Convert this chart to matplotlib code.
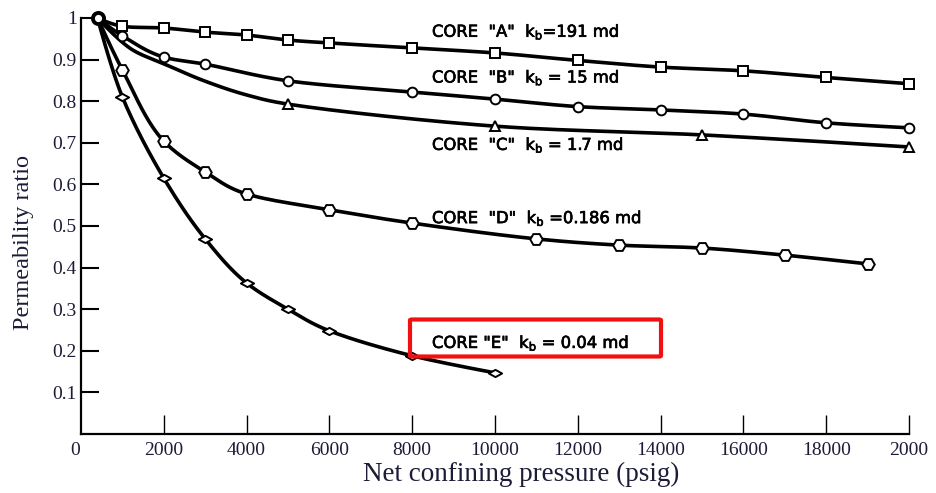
import numpy as np
import matplotlib
matplotlib.use("Agg")
import matplotlib.pyplot as plt
import matplotlib.patheffects as pe
from matplotlib.path import Path
from matplotlib.patches import FancyBboxPatch
from matplotlib.transforms import ScaledTranslation

# ---------------- data ----------------
start_x = 400
start_y = 1.0

a_x = [1000, 2000, 3000, 4000, 5000, 6000, 8000, 10000, 12000, 14000, 16000, 18000, 20000]
a_y = [0.980, 0.976, 0.966, 0.959, 0.947, 0.940, 0.928, 0.916, 0.898, 0.882, 0.873, 0.857, 0.842]

b_x = [1000, 2000, 3000, 5000, 8000, 10000, 12000, 14000, 16000, 18000, 20000]
b_y = [0.957, 0.906, 0.889, 0.849, 0.822, 0.805, 0.787, 0.779, 0.769, 0.748, 0.736]

c_x = [5000, 10000, 15000, 20000]
c_y = [0.793, 0.740, 0.719, 0.690]
# points on the drawn curve of core C without markers
c_curve_x = [1250, 2000, 3000, 4000]
c_curve_y = [0.923, 0.890, 0.848, 0.815]

d_x = [1000, 2000, 3000, 4000, 6000, 8000, 11000, 13000, 15000, 17000, 19000]
d_y = [0.875, 0.704, 0.630, 0.577, 0.539, 0.507, 0.469, 0.454, 0.447, 0.430, 0.409]

e_x = [1000, 2000, 3000, 4000, 5000, 6000, 8000, 10000]
e_y = [0.810, 0.615, 0.469, 0.363, 0.300, 0.248, 0.188, 0.147]

labels = ['CORE  "A"  k$_\\mathregular{b}$=191 md',
          'CORE  "B"  k$_\\mathregular{b}$ = 15 md',
          'CORE  "C"  k$_\\mathregular{b}$ = 1.7 md',
          'CORE  "D"  k$_\\mathregular{b}$ =0.186 md',
          'CORE "E"  k$_\\mathregular{b}$ = 0.04 md']

x_ticks = [0, 2000, 4000, 6000, 8000, 10000, 12000, 14000, 16000, 18000, 20000]
x_tick_labels = ['0', '2000', '4000', '6000', '8000', '10000', '12000', '14000',
                 '16000', '18000', '2000']
y_ticks = [0.1, 0.2, 0.3, 0.4, 0.5, 0.6, 0.7, 0.8, 0.9, 1.0]
y_tick_labels = ['0.1', '0.2', '0.3', '0.4', '0.5', '0.6', '0.7', '0.8', '0.9', '1']

# ---------------- helpers ----------------
def smooth(xs, ys, sx=20000.0, sy=0.5, n=24):
    """Centripetal Catmull-Rom curve through the given points (for drawing)."""
    P = np.column_stack([np.asarray(xs, float) / sx, np.asarray(ys, float) / sy])
    P = np.vstack([P[0], P, P[-1]])
    out = []
    for i in range(1, len(P) - 2):
        p0, p1, p2, p3 = P[i - 1], P[i], P[i + 1], P[i + 2]
        def tj(ti, pa, pb):
            d = np.hypot(*(pb - pa))
            return ti + max(d, 1e-9) ** 0.5
        t0 = 0.0
        t1 = tj(t0, p0, p1)
        t2 = tj(t1, p1, p2)
        t3 = tj(t2, p2, p3)
        t = np.linspace(t1, t2, n)[:, None]
        A1 = (t1 - t) / (t1 - t0) * p0 + (t - t0) / (t1 - t0) * p1
        A2 = (t2 - t) / (t2 - t1) * p1 + (t - t1) / (t2 - t1) * p2
        A3 = (t3 - t) / (t3 - t2) * p2 + (t - t2) / (t3 - t2) * p3
        B1 = (t2 - t) / (t2 - t0) * A1 + (t - t0) / (t2 - t0) * A2
        B2 = (t3 - t) / (t3 - t1) * A2 + (t - t1) / (t3 - t1) * A3
        C = (t2 - t) / (t2 - t1) * B1 + (t - t1) / (t2 - t1) * B2
        out.append(C if i == 1 else C[1:])
    C = np.vstack(out)
    return C[:, 0] * sx, C[:, 1] * sy

diamond = Path([(-1.0, 0.0), (0.0, 0.55), (1.0, 0.0), (0.0, -0.55), (-1.0, 0.0)],
               [Path.MOVETO, Path.LINETO, Path.LINETO, Path.LINETO, Path.CLOSEPOLY])

# ---------------- figure ----------------
plt.rcParams['mathtext.fontset'] = 'dejavusans'
fig = plt.figure(figsize=(9.36, 4.93), dpi=100)
ax = fig.add_axes([81 / 936, 1 - 434 / 493, 828 / 936, 416 / 493])
ax.set_xlim(0, 20000)
ax.set_ylim(0, 1.0)

lw = 2.6
line_kw = dict(color='black', lw=lw, solid_capstyle='round', solid_joinstyle='round',
               clip_on=False, zorder=2)
mk_kw = dict(ls='none', mfc='white', mec='black', clip_on=False, zorder=3)

# curves
for xs, ys in [([start_x] + a_x, [start_y] + a_y),
               ([start_x] + b_x, [start_y] + b_y),
               ([start_x] + c_curve_x + c_x, [start_y] + c_curve_y + c_y),
               ([start_x] + d_x, [start_y] + d_y),
               ([start_x] + e_x, [start_y] + e_y)]:
    sx_, sy_ = smooth(xs, ys)
    ax.plot(sx_, sy_, **line_kw)

ax.plot(a_x, a_y, marker='s', ms=7.5, mew=1.4, **mk_kw)
ax.plot(b_x, b_y, marker='o', ms=7, mew=1.4, **mk_kw)
ax.plot(c_x, c_y, marker='^', ms=7, mew=1.4, **mk_kw)
ax.plot(d_x, d_y, marker='H', ms=9, mew=1.4, **mk_kw)
ax.plot(e_x, e_y, marker=diamond, ms=9.5, mew=1.4, **mk_kw)
ax.plot([start_x], [start_y], marker='o', ms=8, mew=2.8, ls='none',
        mfc='white', mec='black', clip_on=False, zorder=4)

# core labels
lab_x = 8478
lab_y = [0.955, 0.845, 0.683, 0.507, 0.207]
for s, y in zip(labels, lab_y):
    ax.text(lab_x, y, s, fontsize=11.8, family='DejaVu Sans', color='black',
            va='baseline', ha='left', zorder=5,
            path_effects=[pe.withStroke(linewidth=0.5, foreground='black')])

# red box around core E label
box = FancyBboxPatch((410 / 936, 1 - 356.5 / 493), 251 / 936, 37 / 493,
                     boxstyle='round,pad=0,rounding_size=0.002',
                     transform=fig.transFigure, fill=False, ec='#f01010', lw=3.0,
                     zorder=6)
fig.patches.append(box)

# axes styling
for side in ['top', 'right']:
    ax.spines[side].set_visible(False)
ax.spines['left'].set_linewidth(1.6)
ax.spines['bottom'].set_linewidth(1.6)

tcol = '#1c1c38'
ax.set_xticks(x_ticks)
ax.set_xticklabels(x_tick_labels, family='Liberation Serif', fontsize=14, color=tcol)
ax.set_yticks(y_ticks)
ax.set_yticklabels(y_tick_labels, family='Liberation Serif', fontsize=14, color=tcol)
ax.tick_params(axis='x', direction='in', length=13.5, width=1.0, pad=6)
ax.tick_params(axis='y', direction='in', length=13, width=1.5, pad=3)
ax.xaxis.get_major_ticks()[0].tick1line.set_visible(False)
lab0 = ax.xaxis.get_major_ticks()[0].label1
lab0.set_transform(lab0.get_transform() + ScaledTranslation(-6 / 100, 0, fig.dpi_scale_trans))

ax.set_xlabel('Net confining pressure (psig)', family='Liberation Serif', fontsize=19.5,
              color=tcol)
ax.xaxis.set_label_coords((521 - 81) / 828, (434 - 462) / 416)
ax.set_ylabel('Permeability ratio', family='Liberation Serif', fontsize=17.5,
              color=tcol)
ax.yaxis.set_label_coords((34 - 81) / 828, (434 - 242) / 416)

fig.savefig('out.png', dpi=100)
